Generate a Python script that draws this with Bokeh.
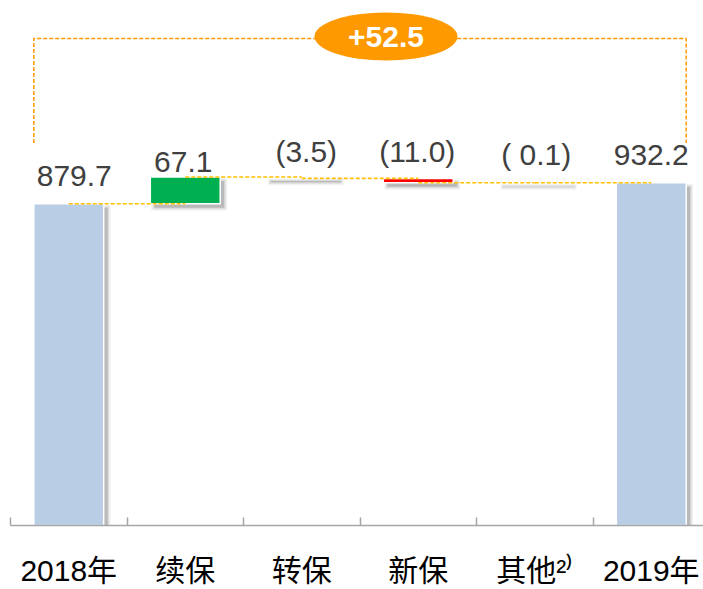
from bokeh.plotting import figure
from bokeh.models import Range1d, FixedTicker, ColumnDataSource
from bokeh.core.properties import value
from bokeh.embed import file_html
from bokeh.resources import INLINE

# ---------------- data ----------------
categories = ["2018年", "续保", "转保", "新保", "其他²⁾", "2019年"]
start_value = 879.7
changes = [67.1, -3.5, -11.0, -0.1]
end_value = 932.2
value_labels = ["879.7", "67.1", "(3.5)", "(11.0)", "( 0.1)", "932.2"]

# ---------------- styling ----------------
bar_colors = ["#B9CDE5", "#00B050", "#FFFFFF", "#FF0000", "#FFFFFF", "#B9CDE5"]
label_dx = [5.5, -2, 4.5, -1, 1.5, 0]        # px
label_gap = [28, 15, 25, 27, 28, 28]         # px above bar top
CJK_FONT = "Liberation Sans, Noto Sans CJK SC"

W, H = 703, 589
LEFT = 10
AXIS_Y = 527
PX_X = 116.5                                 # px per category
PX_Y = 0.4                                   # px per value unit
x_end = (W - LEFT) / PX_X
y_top_val = start_value + 204 / PX_Y
y_bot_val = start_value - (AXIS_Y - 204) / PX_Y

p = figure(width=W, height=H, x_range=Range1d(0, x_end),
           y_range=Range1d(y_bot_val, y_top_val),
           output_backend="svg", toolbar_location=None, y_axis_location=None,
           min_border_left=LEFT, min_border_right=0, min_border_top=0,
           min_border_bottom=H - AXIS_Y)
p.outline_line_color = None
p.grid.visible = False
p.background_fill_color = "white"
p.border_fill_color = "white"

# ---------------- waterfall geometry ----------------
levels = [start_value]
for c in changes:
    levels.append(round(levels[-1] + c, 4))
n = len(categories)
centers = [i + 0.5 for i in range(n)]
bw = 0.6
bottoms, tops = [y_bot_val], [start_value]
for i, c in enumerate(changes):
    a, b = levels[i], levels[i + 1]
    bottoms.append(min(a, b)); tops.append(max(a, b))
bottoms.append(y_bot_val); tops.append(end_value)
lefts = [c - bw / 2 for c in centers]
rights = [c + bw / 2 for c in centers]

# shadows
dx = 4 / PX_X
dy = 4 / PX_Y
for grow, alpha in [(3, 0.07), (1.5, 0.12), (0, 0.22)]:
    gx = grow / PX_X
    gy = grow / PX_Y
    p.quad(left=[l + dx - gx for l in lefts], right=[r + dx + gx for r in rights],
           bottom=[b - dy - gy for b in bottoms], top=[t - dy + gy for t in tops],
           fill_color="#404040", fill_alpha=alpha, line_color=None)

p.quad(left=lefts, right=rights, bottom=bottoms, top=tops,
       fill_color=bar_colors, line_color="white", line_width=1.5)

# connectors
conn_levels = levels + [end_value]
p.segment(x0=centers[:-1], x1=centers[1:], y0=conn_levels[:-1], y1=conn_levels[:-1],
          line_color="#FFC000", line_width=1.6, line_dash="4 2")

# value labels
label_y = [start_value] + [max(levels[i], levels[i + 1]) for i in range(len(changes))] + [end_value]
src = ColumnDataSource(dict(x=centers, y=label_y, text=value_labels,
                            xo=label_dx, yo=[-g for g in label_gap]))
p.text(x="x", y="y", text="text", x_offset="xo", y_offset="yo", source=src,
       text_font=value("Liberation Sans"), text_font_size="30px", text_color="#404040",
       text_align="center", text_baseline="alphabetic")

# bracket with total change
top_level = max(levels)
br_top = top_level + 139 / PX_Y
br_bot = top_level + 34 / PX_Y
bx0, bx1 = lefts[0], rights[-1]
p.line(x=[bx0, bx0, bx1, bx1], y=[br_bot, br_top, br_top, br_bot],
       line_color="#FF9900", line_width=1.5, line_dash="4 2")
total = end_value - start_value
ex = (bx0 + bx1) / 2 + 26 / PX_X
p.ellipse(x=[ex], y=[br_top + 2 / PX_Y], width=143, height=48,
          width_units="screen", height_units="screen",
          fill_color="#FF9900", line_color=None)
p.text(x=[ex], y=[br_top + 2 / PX_Y], text=[f"{total:+.1f}"],
       text_font=value("Liberation Sans"), text_font_size="30px",
       text_font_style="bold", text_color="white",
       text_align="center", text_baseline="middle")

# axis
ax = p.xaxis[0]
ax.ticker = FixedTicker(ticks=centers, minor_ticks=list(range(n + 1)))
ax.major_label_overrides = {c: lab for c, lab in zip(centers, categories)}
ax.major_tick_line_color = None
ax.major_tick_in = 0
ax.major_tick_out = 0
ax.minor_tick_in = 8
ax.minor_tick_out = 0
ax.minor_tick_line_color = "#A6A6A6"
ax.minor_tick_line_width = 1.5
ax.axis_line_color = "#A6A6A6"
ax.axis_line_width = 1.5
ax.major_label_text_font = CJK_FONT
ax.major_label_text_font_size = "30px"
ax.major_label_text_line_height = 1.0
ax.major_label_text_color = "black"
ax.major_label_standoff = 28

open("out.html", "w").write(file_html(p, INLINE))
